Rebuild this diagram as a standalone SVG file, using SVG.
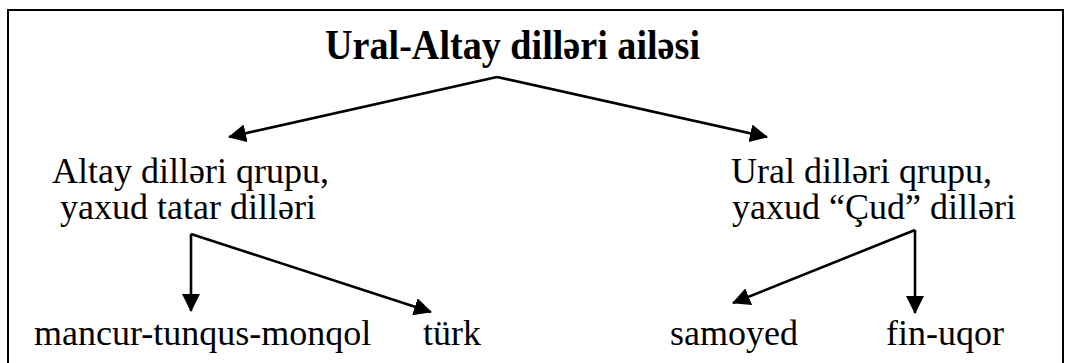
<svg xmlns="http://www.w3.org/2000/svg" width="1066" height="363" viewBox="0 0 1066 363">
<style>
  .t { font-family: "Liberation Serif", "Times New Roman", serif; font-size: 36px; fill: #000; }
  .title { font-family: "Liberation Serif", "Times New Roman", serif; font-size: 42px; font-weight: bold; fill: #000; }
  .edge { stroke: #000; stroke-width: 2.6; fill: none; marker-end: url(#ah); }
</style>
<defs>
  <marker id="ah" markerUnits="userSpaceOnUse" viewBox="0 0 18 18" markerWidth="18" markerHeight="18" refX="17" refY="9" orient="auto">
    <path d="M0,0 L18,9 L0,18 z" fill="#000"/>
  </marker>
</defs>
<rect x="0" y="0" width="1066" height="363" fill="#fff"/>
<rect id="frame" x="8" y="10" width="1055" height="400" fill="none" stroke="#000" stroke-width="2"/>
<g id="root"><text class="title" x="325" y="59" textLength="375" lengthAdjust="spacingAndGlyphs">Ural-Altay dilləri ailəsi</text></g>
<g id="altay"><text class="t" x="52" y="183">Altay dilləri qrupu,</text><text class="t" x="60" y="219">yaxud tatar dilləri</text></g>
<g id="ural"><text class="t" x="731" y="183">Ural dilləri qrupu,</text><text class="t" x="732" y="219">yaxud “Çud” dilləri</text></g>
<g id="mancur"><text class="t" x="34" y="345">mancur-tunqus-monqol</text></g>
<g id="turk"><text class="t" x="423" y="345">türk</text></g>
<g id="samoyed"><text class="t" x="670" y="345">samoyed</text></g>
<g id="fin"><text class="t" x="886" y="345">fin-uqor</text></g>
<g id="connectors">
  <line class="edge" x1="497" y1="77" x2="229" y2="137"/>
  <line class="edge" x1="497" y1="77" x2="767" y2="137"/>
  <line class="edge" x1="191" y1="234" x2="191" y2="311"/>
  <line class="edge" x1="191" y1="234" x2="431" y2="312"/>
  <line class="edge" x1="915" y1="230" x2="915" y2="313"/>
  <line class="edge" x1="915" y1="230" x2="733" y2="303"/>
</g>
</svg>
